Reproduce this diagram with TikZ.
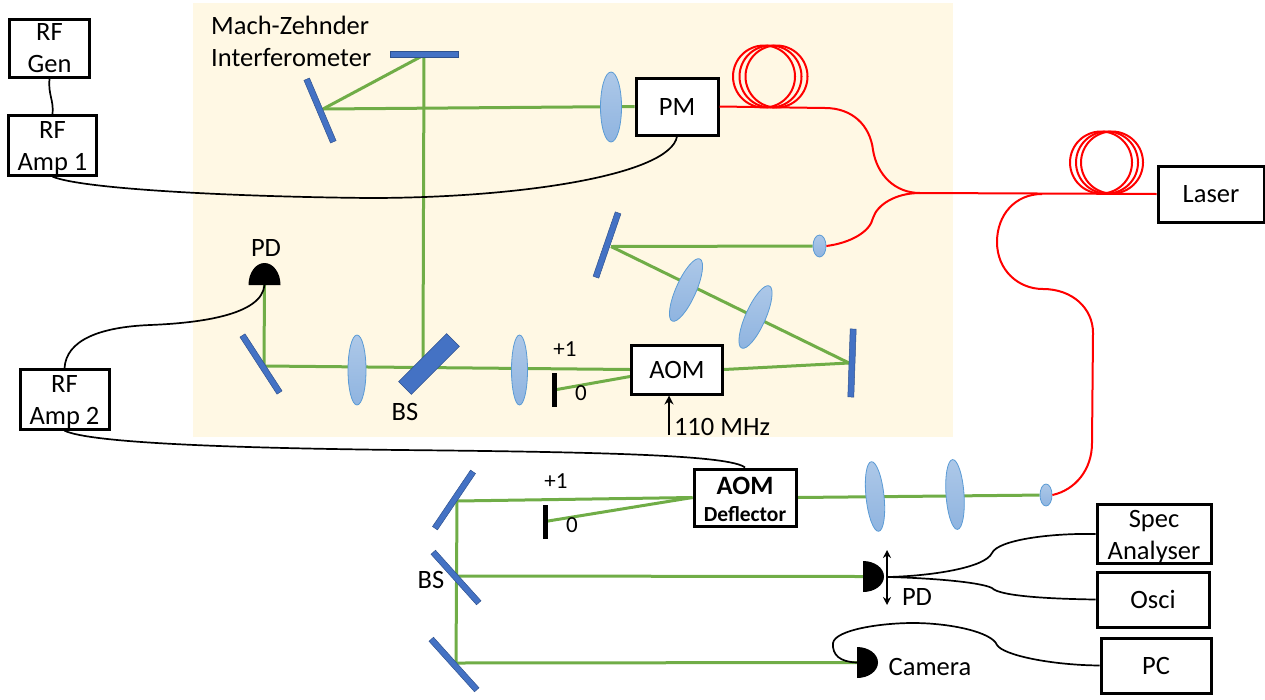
\documentclass[tikz,border=0pt]{standalone}
\usepackage{fontspec}
\setmainfont{Carlito}
\usetikzlibrary{shapes.geometric,backgrounds,arrows.meta}
\definecolor{beamgreen}{HTML}{70AD47}
\definecolor{mirrorblue}{HTML}{4472C4}
\definecolor{mirroredge}{HTML}{2F528F}
\definecolor{lensedge}{HTML}{5B9BD5}
\definecolor{lenstop}{HTML}{ADC8E8}
\definecolor{lensbot}{HTML}{8FB4E0}
\definecolor{cream}{HTML}{FFF8E4}
\newcommand{\toppad}{\rule{0pt}{23pt}}
\begin{document}
\begin{tikzpicture}[x=1pt,y=-1pt]

\tikzstyle{box} = [rectangle, draw=black, line width=3pt, fill=white, inner sep=0pt, align=center, font=\fontsize{26.5}{32}\selectfont]
\tikzstyle{mirror} = [rectangle, draw=mirroredge, line width=0.5pt, fill=mirrorblue, inner sep=0pt, minimum width=68pt, minimum height=6pt]
\tikzstyle{lens} = [ellipse, draw=lensedge, line width=0.8pt, top color=lenstop, bottom color=lensbot, inner sep=0pt]
\tikzstyle{coil} = [circle, draw=red, line width=2pt, inner sep=0pt, minimum size=62pt]
\tikzstyle{block} = [rectangle, fill=black, inner sep=0pt, minimum width=5pt, minimum height=34pt]
\tikzstyle{txt} = [inner sep=0pt, font=\fontsize{26.5}{32}\selectfont]
\tikzstyle{small} = [inner sep=0pt, font=\fontsize{23}{26}\selectfont]
\tikzstyle{beam} = [draw=beamgreen, line width=3pt]
\tikzstyle{fibre} = [draw=red, line width=2pt]
\tikzstyle{cable} = [draw=black, line width=1.7pt]
\tikzstyle{arrow} = [line width=2pt,->,>={Stealth[length=9pt,width=9pt]}]
\tikzstyle{twoway} = [line width=1.7pt,<->,>={Stealth[length=8pt,width=8pt]}]

\useasboundingbox (0,0) rectangle (1265,699);

% Define nodes
\node (rfgen) [box, minimum width=80pt, minimum height=58pt] at (49.5,48.5) {RF\\Gen};
\node (rfampa) [box, minimum width=88pt, minimum height=58pt] at (52.5,145.5) {\toppad RF\\Amp 1};
\node (rfampb) [box, minimum width=89pt, minimum height=59pt] at (64.5,399.5) {\toppad RF\\Amp 2};
\node (pm) [box, minimum width=82pt, minimum height=57pt] at (677,106.5) {PM};
\node (aom) [box, minimum width=91pt, minimum height=49pt] at (677,369.5) {AOM};
\node (deflector) [box, minimum width=102pt, minimum height=57pt] at (745,497.5) {\rule{0pt}{21pt}\textbf{AOM}\\[-5pt]\fontsize{21.5}{24}\selectfont\textbf{Deflector}};
\node (laser) [box, minimum width=106pt, minimum height=56pt] at (1211,194) {Laser};
\node (spec) [box, minimum width=114pt, minimum height=56pt] at (1154,534) {\toppad Spec\\Analyser};
\node (osci) [box, minimum width=112pt, minimum height=55pt] at (1153,599.5) {Osci};
\node (pc) [box, minimum width=110pt, minimum height=55pt] at (1156,665.5) {PC};

\node (mirrortop) [mirror] at (424.5,54) {};
\node (mirrorleft) [mirror, rotate=-67] at (320,110.5) {};
\node (mirrormid) [mirror, rotate=71] at (607,245) {};
\node (mirrorright) [mirror, rotate=88] at (852,363) {};
\node (mirrorpd) [mirror, rotate=-57] at (261,364) {};
\node (bsmz) [mirror, minimum height=18pt, rotate=45] at (429,364) {};
\node (mirrordefl) [mirror, rotate=56] at (454,500) {};
\node (bslow) [mirror, rotate=-48] at (456,577.5) {};
\node (mirrorcam) [mirror, rotate=-48] at (454,664.5) {};

\node (lensa) [lens, minimum width=21pt, minimum height=70pt] at (611,107) {};
\node (lensb) [lens, minimum width=68pt, minimum height=20pt, rotate=66] at (686,290) {};
\node (lensc) [lens, minimum width=68pt, minimum height=20pt, rotate=66] at (755.5,317) {};
\node (lensd) [lens, minimum width=18pt, minimum height=70pt] at (357,370) {};
\node (lense) [lens, minimum width=16pt, minimum height=70pt] at (519.5,370) {};
\node (lensf) [lens, minimum width=70pt, minimum height=18pt, rotate=-84] at (875,496.5) {};
\node (lensg) [lens, minimum width=70pt, minimum height=18pt, rotate=-86] at (955,494.5) {};
\node (collima) [lens, minimum width=13pt, minimum height=22pt] at (819.5,246) {};
\node (collimb) [lens, minimum width=12pt, minimum height=22pt] at (1046,495) {};

\node (blocka) [block] at (554,390) {};
\node (blockb) [block] at (545,521.5) {};

\node (coila) [coil] at (764,76.5) {};
\node (coilb) [coil] at (770.5,76.5) {};
\node (coilc) [coil] at (776.5,76.5) {};
\node (coild) [coil] at (1101,162.5) {};
\node (coile) [coil] at (1107,162.5) {};
\node (coilf) [coil] at (1112,162.5) {};

\coordinate (pdtop) at (264.5,285);
\coordinate (pdside) at (863,576.5);
\coordinate (camera) at (857,662.5);
\coordinate (hitmid) at (611,246.5);
\coordinate (hitright) at (849,363);
\coordinate (hitpd) at (264,366);
\coordinate (hitbs) at (423,358);
\coordinate (hitdefl) at (457,501);
\coordinate (hitbslow) at (456,576);
\coordinate (hitcam) at (456,663);
\coordinate (hitleft) at (323,109);
\coordinate (hittop) at (424,55);
\coordinate (fork) at (920,193);
\coordinate (branch) at (1042,194);
\coordinate (mhz) at (669,435);
\coordinate (cablesplit) at (888,577);
\coordinate (shiftup) at (887,550);
\coordinate (shiftdown) at (887,605);

\node (mzlabel) [txt, align=left, anchor=west] at (211,41) {Mach-Zehnder\\Interferometer};
\node (pdlabela) [txt] at (266,248) {PD};
\node (bslabela) [txt] at (405,412) {BS};
\node (plusa) [small] at (565,349) {+1};
\node (zeroa) [small] at (581,393) {0};
\node (mhzlabel) [txt] at (722,427) {110 MHz};
\node (plusb) [small] at (556,481) {+1};
\node (zerob) [small] at (572,525) {0};
\node (bslabelb) [txt] at (431,580) {BS};
\node (pdlabelb) [txt] at (917,597) {PD};
\node (camlabel) [txt] at (930,667) {Camera};

% Draw detectors
\fill [black] (pdtop) ++(-16,0) arc [start angle=180, end angle=360, x radius=16, y radius=22] -- cycle;
\fill [black] (pdside) ++(0,-15.5) arc [start angle=270, end angle=450, x radius=21, y radius=15.5] -- cycle;
\fill [black] (camera) ++(0,-15.5) arc [start angle=270, end angle=450, x radius=21, y radius=15.5] -- cycle;

% Draw beams
\begin{pgfonlayer}{background}
\fill [cream] (193,3) rectangle (953,437);
\draw [beam] (collima) -- (hitmid);
\draw [beam] (hitmid) -- (hitright);
\draw [beam] (hitright) -- (aom.east);
\draw [beam] (aom.west) -- (hitpd);
\draw [beam] ([yshift=-7pt]aom.west) -- (blocka);
\draw [beam] (hitpd) -- (pdtop);
\draw [beam] (hitbs) -- (hittop);
\draw [beam] (hittop) -- (hitleft);
\draw [beam] (hitleft) -- (pm.west);
\draw [beam] (collimb) -- (deflector.east);
\draw [beam] (deflector.west) -- (hitdefl);
\draw [beam] (deflector.west) -- (blockb);
\draw [beam] (hitdefl) -- (hitcam);
\draw [beam] (hitbslow) -- (pdside);
\draw [beam] (hitcam) -- (camera);
\end{pgfonlayer}

% Draw fibres
\draw [fibre] (pm.east) -- (825,108) .. controls (852,108) and (870,125) .. (873,150) .. controls (877,175) and (895,193) .. (fork);
\draw [fibre] (collima.east) .. controls (850,243) and (870,232) .. (873,218) .. controls (877,205) and (895,193) .. (fork);
\draw [fibre] (fork) -- (laser.west);
\draw [fibre] (branch) .. controls (1015,194) and (997,215) .. (997,242) .. controls (997,270) and (1018,289) .. (1043,289) .. controls (1072,289) and (1093,308) .. (1093,333) -- (1092,443) .. controls (1092,470) and (1075,490) .. (collimb.east);

% Draw cables
\draw [cable] (rfgen.south) .. controls (48,95) and (54,100) .. (rfampa.north);
\draw [cable] (rfampa.south) .. controls (85,190) and (250,197) .. (370,198) .. controls (520,198) and (670,175) .. (pm.south);
\draw [cable] (rfampb.north) .. controls (66,340) and (100,327) .. (150,325) .. controls (200,323) and (262,315) .. (pdtop);
\draw [cable] (rfampb.south) .. controls (90,443) and (230,448) .. (400,450) .. controls (600,452) and (730,455) .. (deflector.north);
\draw [cable] (cablesplit) .. controls (930,576) and (985,568) .. (992,553) .. controls (998,540) and (1050,533) .. (spec.west);
\draw [cable] (cablesplit) .. controls (930,578) and (980,582) .. (992,588) .. controls (1000,597) and (1060,599) .. (osci.west);
\draw [cable] (camera) .. controls (840,662) and (832,655) .. (833,643) .. controls (835,630) and (880,623) .. (913,623) .. controls (950,623) and (992,632) .. (997,645) .. controls (1003,655) and (1050,665) .. (pc.west);

% Draw arrows
\draw [arrow] (mhz) -- (mhz |- aom.south);
\draw [twoway] (shiftup) -- (shiftdown);

\end{tikzpicture}
\end{document}
